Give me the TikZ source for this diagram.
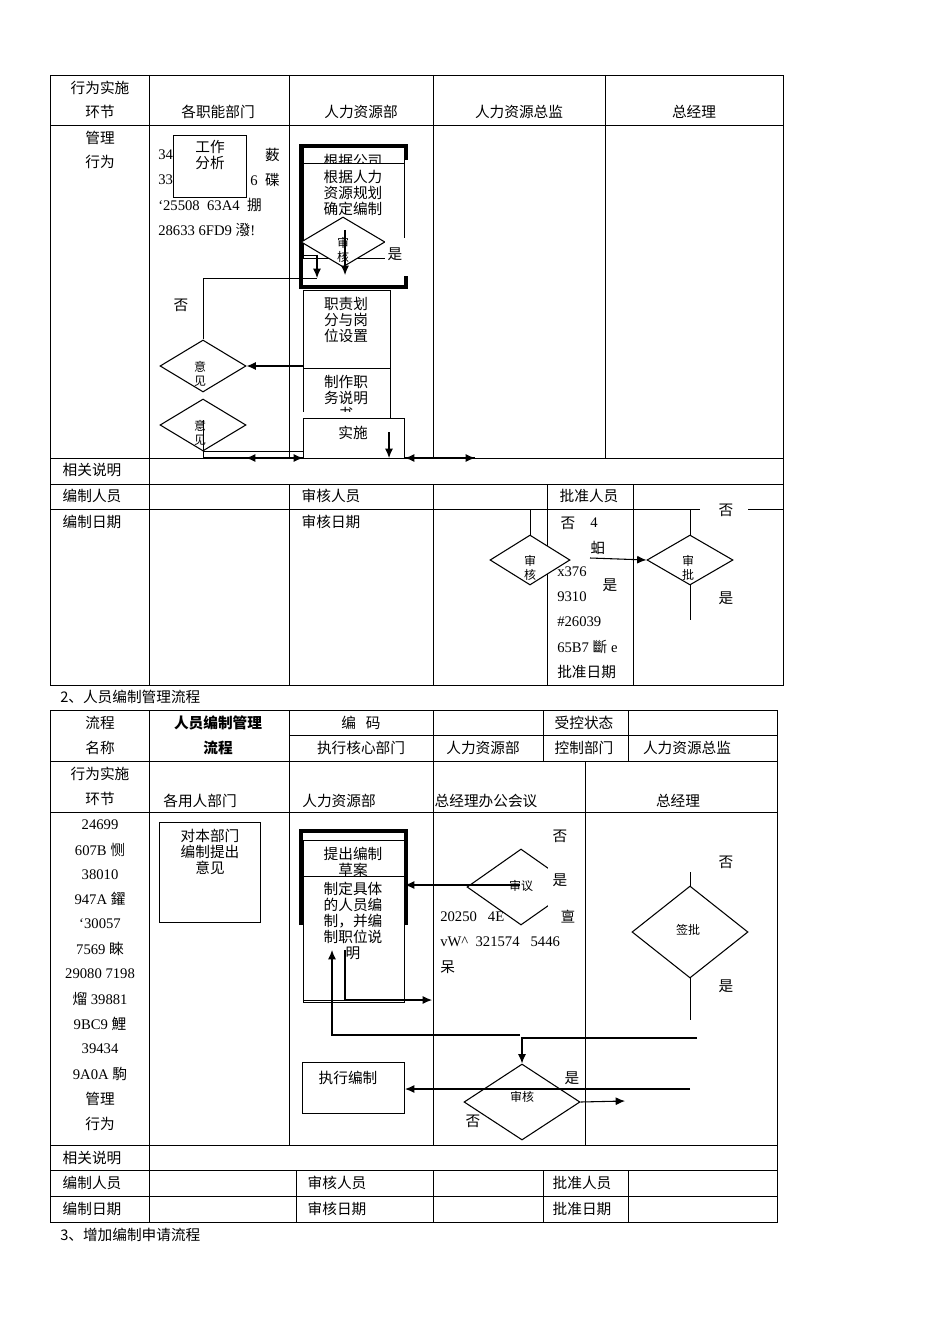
\documentclass[tikz,border=0pt]{standalone}
\usepackage{fontspec}
\setmainfont{Liberation Serif}
\newfontfamily\zhf{Noto Sans CJK SC}
\newcommand\zh[1]{{\zhf #1}}
\usetikzlibrary{arrows.meta,shapes.geometric}
\begin{document}
\begin{tikzpicture}[x=0.75pt,y=-0.75pt,
  ln/.style={line width=0.6pt},
  tx/.style={inner sep=0pt,font=\fontsize{11}{13}\selectfont},
  sm/.style={inner sep=0pt,font=\fontsize{9}{10}\selectfont\zhf},
  bx/.style={draw,line width=0.8pt,fill=white,align=center,anchor=north west,inner sep=0pt},
  dia/.style={draw,line width=0.8pt,diamond,aspect=1.7,inner sep=0pt,fill=white},
  ar/.style={line width=0.8pt,-{Latex[length=7pt,width=6pt]}}]
\useasboundingbox (0,0) rectangle (950,1344);
\fill[white] (0,0) rectangle (950,1344);
% ===== table 1 =====
\draw[ln] (50,75) rectangle (783,685);
\foreach \y in {125,458,484,509} \draw[ln] (50,\y)--(783,\y);
\foreach \x in {149,289,433,605} \draw[ln] (\x,75)--(\x,458);
\draw[ln] (149,458)--(149,685);
\foreach \x in {289,433,547,633} \draw[ln] (\x,484)--(\x,685);
\node[tx] (h1) at (100,88) {\zh{行为实施}};
\node[tx] (h2) at (100,112) {\zh{环节}};
\node[tx] (h3) at (218,112) {\zh{各职能部门}};
\node[tx] (h4) at (361,112) {\zh{人力资源部}};
\node[tx] (h5) at (519,112) {\zh{人力资源总监}};
\node[tx] (h6) at (694,112) {\zh{总经理}};
\node[tx] (m1) at (100,138) {\zh{管理}};
\node[tx] (m2) at (100,162) {\zh{行为}};
\node[tx,anchor=west] (g1) at (158,155) {34};
\node[tx,anchor=east] (g1b) at (280,155) {\zh{薮}};
\node[tx,anchor=west] (g2) at (158,180) {33};
\node[tx,anchor=east] (g2b) at (280,180) {6\ \ \zh{碟}};
\node[tx,anchor=west] (g3) at (158,205) {`25508\ \ 63A4\ \ \zh{掤}};
\node[tx,anchor=west] (g4) at (158,230) {28633 6FD9 \zh{潑}!};
\node[bx,minimum width=73pt*0.75,minimum height=62pt*0.75] (gz) at (173,135) {};
\node[sm,font=\fontsize{11}{12}\selectfont\zhf,align=center,anchor=north] (gzt) at (210,140) {工作\\分析};
% thick box
\draw[line width=2.5pt] (406,160)--(406,146)--(301,146)--(301,287)--(406,287)--(406,276);
\node[bx,minimum width=101pt*0.75,minimum height=16pt*0.75] (gs) at (303,147) {};
\node[tx,anchor=north] (gst) at (353,154) {\zh{根据公司}};
\node[bx,minimum width=101pt*0.75,minimum height=95pt*0.75] (gr) at (303,163) {};
\node[tx,anchor=north,align=center,font=\fontsize{11}{12}\selectfont\zhf] (grt) at (353,170) {根据人力\\资源规划\\确定编制};
\node[dia,minimum width=84pt*0.75,minimum height=50pt*0.75] (sh1) at (343,242) {};
\node[sm,align=center] (sh1t) at (343,250) {审\\核};
\fill[white] (385,238) rectangle (405,270);
\node[tx] (y1) at (395,254) {\zh{是}};
\draw[ln] (303,255)--(317,255);
\draw[ar] (317,255)--(317,278);
\draw[ar] (345,230)--(345,275);
\node[bx,minimum width=87pt*0.75,minimum height=78pt*0.75] (zz) at (303,290) {};
\node[tx,anchor=north,align=center,font=\fontsize{11}{12}\selectfont\zhf] (zzt) at (346,297) {职责划\\分与岗\\位设置};
\node[bx,minimum width=87pt*0.75,minimum height=52pt*0.75] (zs) at (303,368) {};
\node[tx,anchor=north,align=center,font=\fontsize{11}{12}\selectfont\zhf] (zst) at (346,375) {制作职\\务说明\\书};
\fill[white] (303,412) rectangle (390,418);
\node[bx,minimum width=101pt*0.75,minimum height=40pt*0.75] (ss) at (303,418) {};
\node[tx] (sst) at (353,433) {\zh{实施}};
\node[dia,minimum width=86pt*0.75,minimum height=52pt*0.75] (yj1) at (203,366) {};
\node[sm,align=center] (yj1t) at (200,374) {意\\见};
\node[dia,minimum width=86pt*0.75,minimum height=52pt*0.75] (yj2) at (203,425) {};
\node[sm,align=center] (yj2t) at (200,433) {意\\见};
\node[tx] (no1) at (181,305) {\zh{否}};
\draw[ln] (yj1.north)--(203,278)--(317,278);
\draw[ar] (zz.west|-yj1) -- (yj1.east);
\draw[ln] (203,420)--(203,458);
\draw[ln] (203,451)--(303,451);
\draw[ar] (203,458)--(303,458);
\draw[ar] (303,458)--(246,458);
\draw[ar] (389,432)--(389,458);
\draw[ar] (405,458)--(475,458);
\draw[ar] (475,458)--(405,458);
\draw[ln] (475,458)--(690,458);
\node[tx] (r1) at (92,470) {\zh{相关说明}};
\node[tx] (r2) at (92,496) {\zh{编制人员}};
\node[tx] (r3) at (331,496) {\zh{审核人员}};
\node[tx] (r4) at (589,496) {\zh{批准人员}};
\node[tx] (r5) at (92,522) {\zh{编制日期}};
\node[tx] (r6) at (331,522) {\zh{审核日期}};
% right lower diamonds
\fill[white] (548,510) rectangle (632,530);
\fill[white] (700,500) rectangle (748,520);
\draw[ln] (530,509)--(530,535);
\draw[ln] (690,509)--(690,535);
\draw[ln] (690,585)--(690,620);
\node[dia,minimum width=80pt*0.75,minimum height=50pt*0.75] (sh2) at (530,560) {};
\node[sm,align=center] (sh2t) at (530,568) {审\\核};
\node[dia,minimum width=86pt*0.75,minimum height=50pt*0.75] (sp) at (690,560) {};
\node[sm,align=center] (spt) at (688,568) {审\\批};
\draw[ar] (590,558)--(sp.west);
\node[tx] (n2) at (568,523) {\zh{否}};
\node[tx] (n2b) at (594,523) {4};
\node[tx] (t1) at (598,548) {\zh{蚎}};
\node[tx,anchor=west] (t2) at (557,572) {x376};
\node[tx] (y2) at (610,585) {\zh{是}};
\node[tx,anchor=west] (t3) at (557,597) {9310};
\node[tx,anchor=west] (t4) at (557,622) {\#26039};
\node[tx,anchor=west] (t5) at (557,647) {65B7 \zh{斷} e};
\node[tx,anchor=west] (t6) at (557,672) {\zh{批准日期}};
\node[tx] (n3) at (726,510) {\zh{否}};
\node[tx] (y3) at (726,598) {\zh{是}};
\node[tx,anchor=west] (c2) at (60,697) {\zh{2、人员编制管理流程}};
% ===== table 2 =====
\draw[ln] (50,710) rectangle (777,1222);
\foreach \y in {761,812,1145,1170,1196} \draw[ln] (50,\y)--(777,\y);
\draw[ln] (289,735)--(777,735);
\foreach \x in {149,289,433,543,628} \draw[ln] (\x,710)--(\x,761);
\foreach \x in {149,289,433,585} \draw[ln] (\x,761)--(\x,1145);
\draw[ln] (149,1145)--(149,1222);
\foreach \x in {296,433,543,628} \draw[ln] (\x,1170)--(\x,1222);
\node[tx] (a1) at (100,723) {\zh{流程}};
\node[tx] (a2) at (100,748) {\zh{名称}};
\node[tx,font=\fontsize{11}{13}\selectfont\bfseries] (a3) at (218,723) {\zh{\textbf{人员编制管理}}};
\node[tx] (a4) at (218,748) {\zh{\textbf{流程}}};
\node[tx] (a5) at (361,723) {\zh{编\ \ \ 码}};
\node[tx] (a6) at (584,723) {\zh{受控状态}};
\node[tx] (a7) at (361,748) {\zh{执行核心部门}};
\node[tx] (a8) at (483,748) {\zh{人力资源部}};
\node[tx] (a9) at (584,748) {\zh{控制部门}};
\node[tx] (a10) at (687,748) {\zh{人力资源总监}};
\node[tx] (b1) at (100,774) {\zh{行为实施}};
\node[tx] (b2) at (100,799) {\zh{环节}};
\node[tx] (b3) at (200,801) {\zh{各用人部门}};
\node[tx] (b4) at (339,801) {\zh{人力资源部}};
\node[tx] (b5) at (486,801) {\zh{总经理办公会议}};
\node[tx] (b6) at (678,801) {\zh{总经理}};
\node[tx] (l1) at (100,825) {24699};
\node[tx] (l2) at (100,850) {607B \zh{恻}};
\node[tx] (l3) at (100,875) {38010};
\node[tx] (l4) at (100,899) {947A \zh{鑃}};
\node[tx] (l5) at (100,924) {`30057};
\node[tx] (l6) at (100,949) {7569 \zh{睞}};
\node[tx] (l7) at (100,974) {29080 7198};
\node[tx] (l8) at (100,999) {\zh{熘} 39881};
\node[tx] (l9) at (100,1024) {9BC9 \zh{鯉}};
\node[tx] (l10) at (100,1049) {39434};
\node[tx] (l11) at (100,1074) {9A0A \zh{駒}};
\node[tx] (l12) at (100,1099) {\zh{管理}};
\node[tx] (l13) at (100,1124) {\zh{行为}};
\node[bx,minimum width=101pt*0.75,minimum height=100pt*0.75] (db) at (159,822) {};
\node[tx,anchor=north,align=center,font=\fontsize{11}{12}\selectfont\zhf] (dbt) at (210,829) {对本部门\\编制提出\\意见};
\draw[line width=2.5pt] (301,925)--(301,831)--(406,831)--(406,925);
\node[bx,minimum width=101pt*0.75,minimum height=36pt*0.75] (tc) at (303,840) {};
\node[tx,anchor=north,align=center,font=\fontsize{11}{12}\selectfont\zhf] (tct) at (353,847) {提出编制\\草案};
\node[bx,minimum width=101pt*0.75,minimum height=126pt*0.75] (zd) at (303,876) {};
\node[tx,anchor=north,align=center,font=\fontsize{11}{12}\selectfont\zhf] (zdt) at (353,882) {制定具体\\的人员编\\制，并编\\制职位说\\明};
\node[dia,minimum width=108pt*0.75,minimum height=76pt*0.75] (sy) at (521,887) {};
\fill[white] (548,850) rectangle (584,930);
\node[sm] (syt) at (521,886) {审议};
\draw[ar] (520,885)--(405,885);
\node[tx] (n4) at (560,836) {\zh{否}};
\node[tx] (y4) at (560,880) {\zh{是}};
\node[tx,anchor=west] (u1) at (440,917) {20250\ \ \ 4E};
\node[tx] (u1b) at (568,917) {\zh{亶}};
\node[tx,anchor=west] (u2) at (440,942) {vW\^{}\ \ 321574\ \ \ 5446};
\node[tx,anchor=west] (u3) at (440,967) {\zh{呆}};
\draw[ln] (690,872)--(690,886);
\node[dia,minimum width=116pt*0.75,minimum height=92pt*0.75] (qp) at (690,932) {};
\node[sm] (qpt) at (688,930) {签批};
\draw[ln] (690,978)--(690,1020);
\node[tx] (n5) at (726,862) {\zh{否}};
\node[tx] (y5) at (726,986) {\zh{是}};
\draw[ln] (303,1000)--(404,1000);
\draw[ar] (345,950)--(345,1000)--(432,1000);
\draw[ar] (520,1035)--(332,1035)--(332,950);
\node[dia,minimum width=116pt*0.75,minimum height=76pt*0.75] (sh3) at (522,1102) {};
\node[sm] (sh3t) at (522,1097) {审核};
\draw[ar] (697,1038)--(522,1038)--(sh3.north);
\node[bx,minimum width=102pt*0.75,minimum height=51pt*0.75] (zx) at (302,1062) {};
\node[tx] (zxt) at (348,1078) {\zh{执行编制}};
\draw[ar] (690,1089)--(405,1089);
\draw[ar] (sh3.east)--(625,1101);
\node[tx] (y6) at (572,1078) {\zh{是}};
\node[tx] (n6) at (473,1121) {\zh{否}};
\node[tx] (s1) at (92,1158) {\zh{相关说明}};
\node[tx] (s2) at (92,1183) {\zh{编制人员}};
\node[tx] (s3) at (337,1183) {\zh{审核人员}};
\node[tx] (s4) at (582,1183) {\zh{批准人员}};
\node[tx] (s5) at (92,1209) {\zh{编制日期}};
\node[tx] (s6) at (337,1209) {\zh{审核日期}};
\node[tx] (s7) at (582,1209) {\zh{批准日期}};
\node[tx,anchor=west] (c3) at (60,1235) {\zh{3、增加编制申请流程}};
\end{tikzpicture}
\end{document}
